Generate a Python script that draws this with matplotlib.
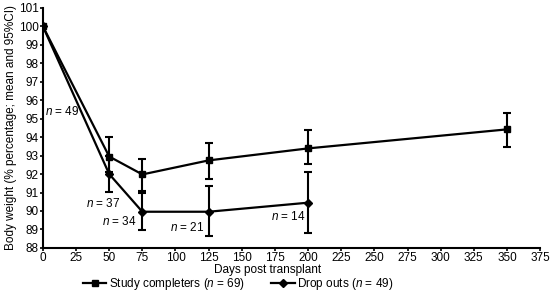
import matplotlib
matplotlib.use("Agg")
import matplotlib.pyplot as plt

plt.rcParams['font.family'] = ['Liberation Sans', 'DejaVu Sans']
plt.rcParams['mathtext.fontset'] = 'custom'
plt.rcParams['mathtext.it'] = 'Liberation Sans:italic'
plt.rcParams['mathtext.rm'] = 'Liberation Sans'

days_comp = [0, 50, 75, 125, 200, 350]
mean_comp = [100, 92.95, 91.98, 92.74, 93.39, 94.42]
lo_comp = [100, 92.1, 91.1, 91.73, 92.52, 93.48]
hi_comp = [100, 94.0, 92.81, 93.66, 94.38, 95.28]

days_drop = [0, 50, 75, 125, 200]
mean_drop = [100, 92.0, 89.96, 89.96, 90.45]
lo_drop = [100, 91.04, 88.97, 88.65, 88.79]
hi_drop = [100, 93.0, 90.97, 91.35, 92.09]

n_labels = ["$n$ = 49", "$n$ = 37", "$n$ = 34", "$n$ = 21", "$n$ = 14"]
n_x = [1.5, 32.4, 44.5, 95.8, 172]
n_y = [95.4, 90.38, 89.42, 89.13, 89.7]

xticks = list(range(0, 376, 25))
yticks = list(range(88, 102))

FS = 8.5

fig = plt.figure(figsize=(5.5, 2.91), dpi=100)
ax = fig.add_axes([0.078, 0.148, 0.904, 0.825])

ec = [[m - l for m, l in zip(mean_comp, lo_comp)], [h - m for m, h in zip(mean_comp, hi_comp)]]
ed = [[m - l for m, l in zip(mean_drop, lo_drop)], [h - m for m, h in zip(mean_drop, hi_drop)]]

c1 = ax.errorbar(days_comp, mean_comp, yerr=ec, color='black', lw=1.6, marker='s', ms=5,
                 capsize=3, capthick=1.5, elinewidth=1.5)
c2 = ax.errorbar(days_drop, mean_drop, yerr=ed, color='black', lw=1.6, marker='D', ms=4.5,
                 capsize=3, capthick=1.5, elinewidth=1.5)

for t, x, y in zip(n_labels, n_x, n_y):
    ax.text(x, y, t, fontsize=FS, va='center', ha='left')

ax.set_xlim(0, 375)
ax.set_ylim(88, 101)
ax.set_xticks(xticks)
ax.set_yticks(yticks)
ax.tick_params(labelsize=FS, width=1.2, length=2.5, pad=0.5)
for s in ['top', 'right']:
    ax.spines[s].set_visible(False)
for s in ['left', 'bottom']:
    ax.spines[s].set_linewidth(1.5)

ax.set_xlabel('Days post transplant', fontsize=FS)
ax.xaxis.set_label_coords((268 - 43) / 497, -0.068)
ax.set_ylabel('Body weight (% percentage; mean and 95%CI)', fontsize=FS, labelpad=1)

fig.legend([c1[0], c2[0]], ['Study completers ($n$ = 69)', 'Drop outs ($n$ = 49)'],
           loc='center', bbox_to_anchor=(238 / 550, 1 - 284 / 291), ncol=2,
           frameon=False, fontsize=FS, handlelength=2, columnspacing=2.2, handletextpad=0.2,
           borderaxespad=0, borderpad=0)

fig.savefig('out.png', dpi=100)
